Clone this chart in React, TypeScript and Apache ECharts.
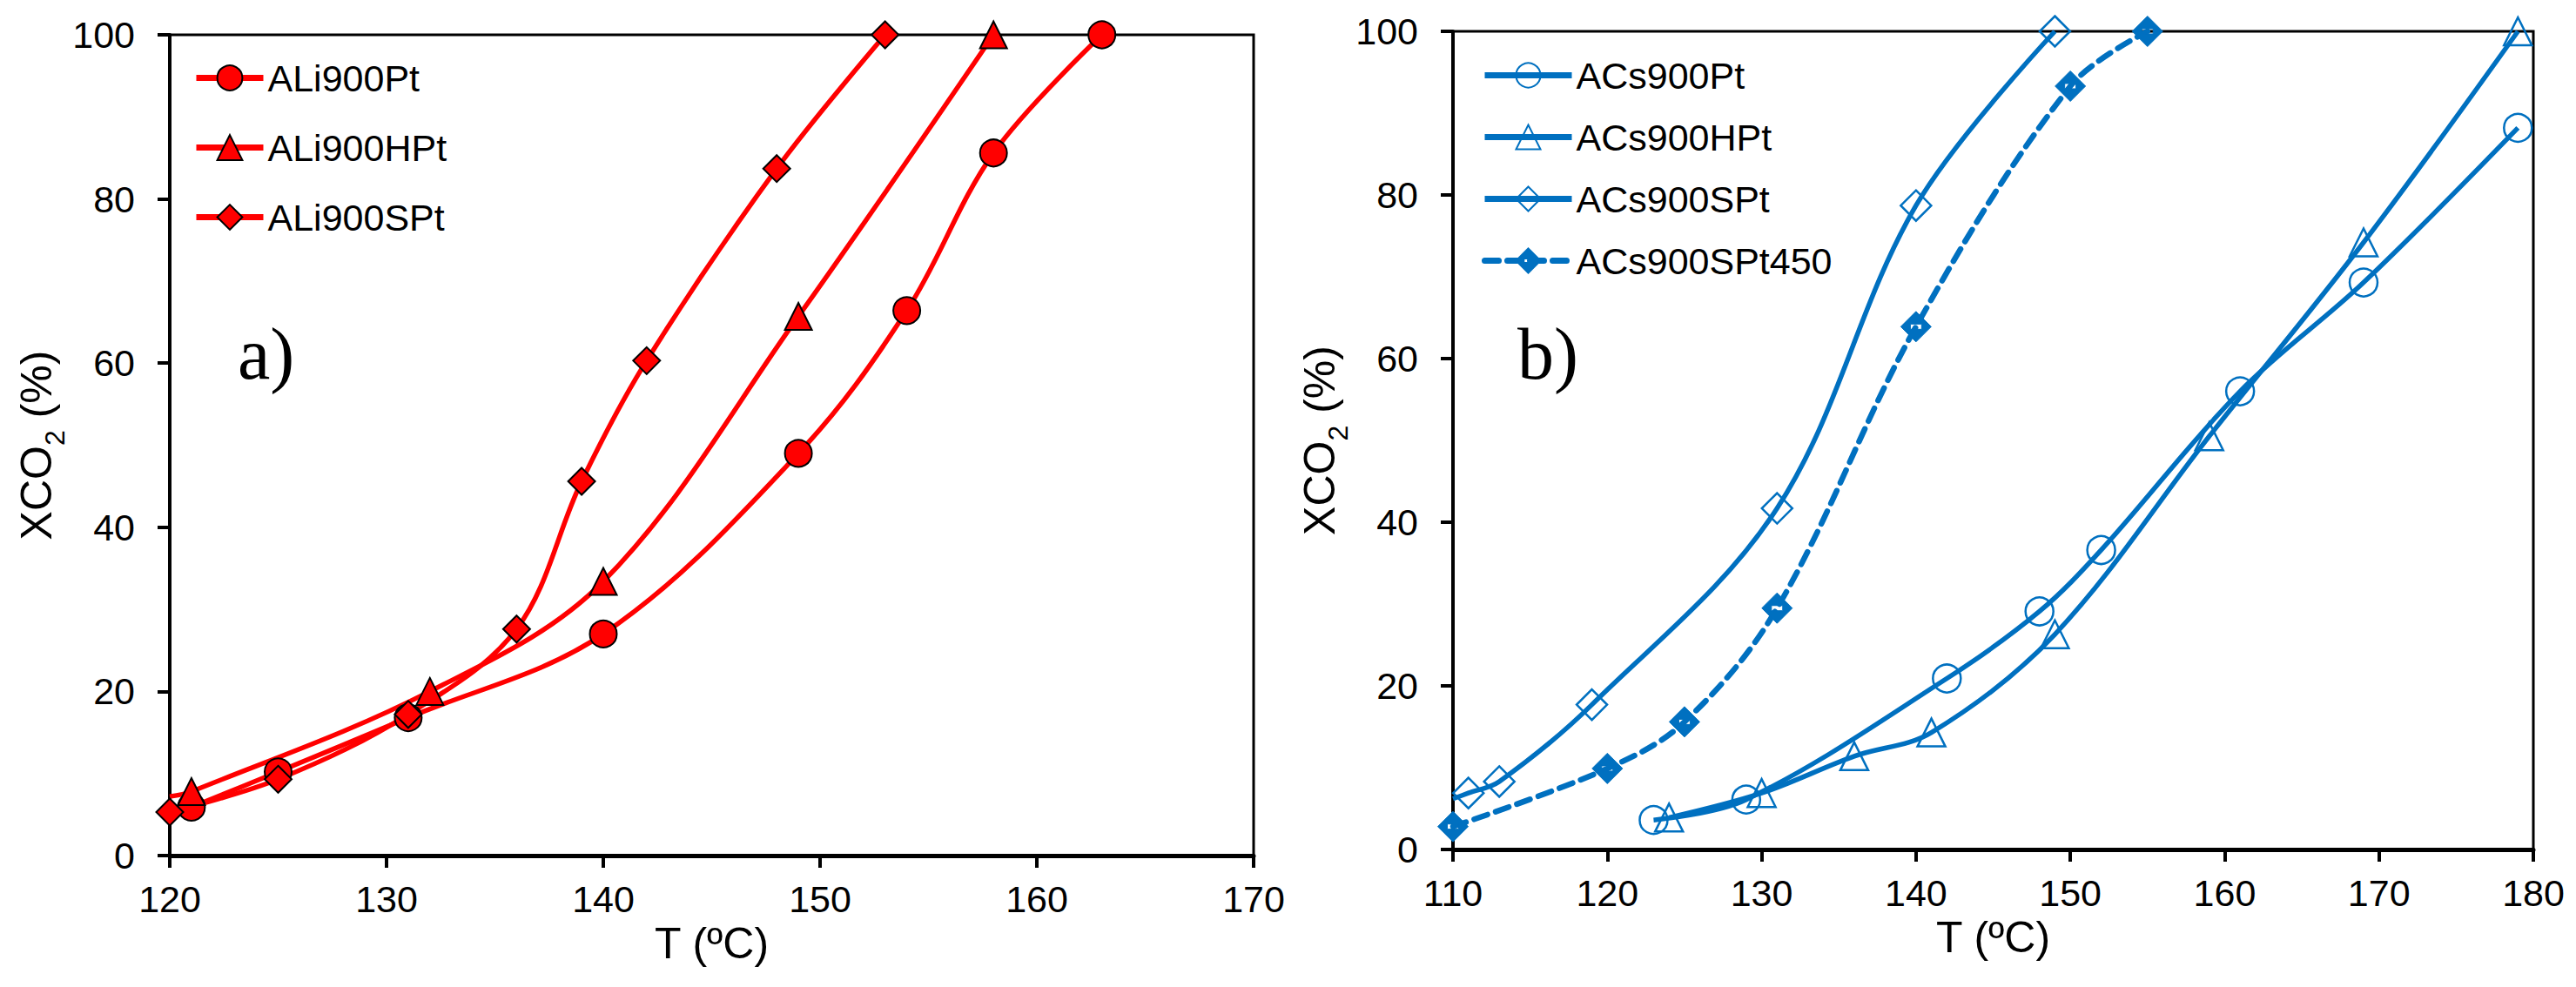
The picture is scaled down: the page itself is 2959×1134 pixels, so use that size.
import React, { useEffect, useRef } from 'react';
import * as echarts from 'echarts';

// panel a) ALi900 samples
const aliPtT = [121, 125, 131, 140, 149, 154, 158, 163];
const aliPtX = [5.9, 10.2, 16.8, 27.0, 49.0, 66.4, 85.6, 100];
const aliHPtT = [120, 121, 132, 140, 149, 158];
const aliHPtX = [7.2, 7.8, 20.0, 33.4, 65.7, 100];
const aliSPtT = [120, 125, 131, 136, 139, 142, 148, 153];
const aliSPtX = [5.3, 9.3, 17.2, 27.6, 45.6, 60.3, 83.7, 100];

// panel b) ACs900 samples
const acsPtT = [123, 129, 142, 148, 152, 161, 169, 179];
const acsPtX = [3.6, 6.1, 20.9, 29.1, 36.6, 56.0, 69.3, 88.2];
const acsHPtT = [124, 130, 136, 141, 149, 159, 169, 179];
const acsHPtX = [3.9, 6.9, 11.4, 14.3, 26.3, 50.5, 74.2, 100];
const acsSPtT = [110, 111, 113, 119, 131, 140, 149];
const acsSPtX = [6.2, 6.9, 8.3, 17.7, 41.7, 78.7, 100];
const acsSPt450T = [110, 120, 125, 131, 140, 150, 155];
const acsSPt450X = [2.8, 9.9, 15.6, 29.5, 63.9, 93.3, 100];

const leftNames = ['ALi900Pt', 'ALi900HPt', 'ALi900SPt'];
const rightNames = ['ACs900Pt', 'ACs900HPt', 'ACs900SPt', 'ACs900SPt450'];

const RED = '#FF0000';
const BLUE = '#0070C0';
const FONT = '"Liberation Sans", Arial, sans-serif';

// first point of a curve with no marker drawn on it
const points = (t: number[], x: number[], bareFirst = false) =>
  t.map((v, i) =>
    i === 0 && bareFirst ? { value: [v, x[i]], symbol: 'none' } : { value: [v, x[i]] }
  );

const diamondWithBar =
  'path://M0,-10L10,0L0,10L-10,0ZM-3.7,-1.7L-3.7,1.7L3.7,1.7L3.7,-1.7Z';

export default function App() {
  const chartRef = useRef<HTMLDivElement>(null);

  useEffect(() => {
    if (!chartRef.current) return;
    const chart = echarts.init(chartRef.current, null, { renderer: 'svg' });

    const xAxisBase = (min: number, max: number) => ({
      type: 'value',
      min,
      max,
      interval: 10,
      axisLine: { lineStyle: { color: '#000', width: 5 } },
      axisTick: { inside: false, length: 14, lineStyle: { color: '#000', width: 4 } },
      axisLabel: { color: '#000', fontSize: 43, fontFamily: FONT, margin: 28 },
      splitLine: { show: false },
      name: 'T (ºC)',
      nameLocation: 'middle',
      nameGap: 76,
      nameTextStyle: { color: '#000', fontSize: 50, fontFamily: FONT },
    });

    const yAxisBase = () => ({
      type: 'value',
      min: 0,
      max: 100,
      interval: 20,
      axisLine: { show: true, lineStyle: { color: '#000', width: 4 } },
      axisTick: { show: true, inside: false, length: 14, lineStyle: { color: '#000', width: 4 } },
      axisLabel: { color: '#000', fontSize: 43, fontFamily: FONT, margin: 40 },
      splitLine: { show: false },
      name: '{n|XCO}{s|2}{n| (%)}',
      nameLocation: 'middle',
      nameRotate: 90,
      nameGap: 118,
      nameTextStyle: {
        rich: {
          n: { fontSize: 50, lineHeight: 50, verticalAlign: 'top', fontFamily: FONT, color: '#000' },
          s: {
            fontSize: 32,
            lineHeight: 32,
            verticalAlign: 'top',
            padding: [30, 0, 0, 0],
            fontFamily: FONT,
            color: '#000',
          },
        },
      },
    });

    const redSeries = (name: string, data: any[], symbol: string) => ({
      type: 'line',
      name,
      xAxisIndex: 0,
      yAxisIndex: 0,
      data,
      smooth: 0.35,
      symbol,
      symbolSize: 31,
      lineStyle: { color: RED, width: 5.5 },
      itemStyle: { color: RED, borderColor: '#000', borderWidth: 2 },
      emphasis: { disabled: true },
    });

    const blueSeries = (name: string, data: any[], symbol: string, size: number) => ({
      type: 'line',
      name,
      xAxisIndex: 1,
      yAxisIndex: 1,
      data,
      smooth: 0.35,
      symbol,
      symbolSize: size,
      lineStyle: { color: BLUE, width: 5.5 },
      itemStyle: { color: 'rgba(255,255,255,0)', borderColor: BLUE, borderWidth: 2.5 },
      emphasis: { disabled: true },
    });

    const option = {
      animation: false,
      backgroundColor: '#fff',
      textStyle: { fontFamily: FONT },
      grid: [
        {
          left: 195, top: 40, width: 1245, height: 943,
          show: true, borderColor: '#000', borderWidth: 3, backgroundColor: 'transparent',
        },
        {
          left: 1669, top: 36, width: 1241, height: 940,
          show: true, borderColor: '#000', borderWidth: 3, backgroundColor: 'transparent',
        },
      ],
      xAxis: [
        { ...xAxisBase(120, 170), gridIndex: 0 },
        { ...xAxisBase(110, 180), gridIndex: 1 },
      ],
      yAxis: [
        { ...yAxisBase(), gridIndex: 0 },
        { ...yAxisBase(), gridIndex: 1 },
      ],
      legend: [
        {
          data: leftNames,
          orient: 'vertical',
          left: 217,
          top: 63,
          itemWidth: 77,
          itemHeight: 36,
          itemGap: 37,
          lineStyle: { width: 7 },
          textStyle: { color: '#000', fontSize: 43, fontFamily: FONT },
        },
        {
          data: rightNames,
          orient: 'vertical',
          left: 1697,
          top: 60,
          itemWidth: 100,
          itemHeight: 35,
          itemGap: 28,
          lineStyle: { width: 7 },
          textStyle: { color: '#000', fontSize: 43, fontFamily: FONT },
        },
      ],
      graphic: [
        {
          type: 'text',
          left: 273,
          top: 364,
          style: { text: 'a)', font: '84px "Liberation Serif", "Times New Roman", serif', fill: '#000' },
        },
        {
          type: 'text',
          left: 1743,
          top: 364,
          style: { text: 'b)', font: '84px "Liberation Serif", "Times New Roman", serif', fill: '#000' },
        },
      ],
      series: [
        redSeries(leftNames[0], points(aliPtT, aliPtX), 'circle'),
        redSeries(leftNames[1], points(aliHPtT, aliHPtX, true), 'triangle'),
        redSeries(leftNames[2], points(aliSPtT, aliSPtX), 'diamond'),
        blueSeries(rightNames[0], points(acsPtT, acsPtX), 'circle', 32),
        blueSeries(rightNames[1], points(acsHPtT, acsHPtX), 'triangle', 32),
        blueSeries(rightNames[2], points(acsSPtT, acsSPtX, true), 'diamond', 35),
        {
          type: 'line',
          name: rightNames[3],
          xAxisIndex: 1,
          yAxisIndex: 1,
          data: points(acsSPt450T, acsSPt450X),
          smooth: 0.35,
          symbol: diamondWithBar,
          symbolSize: 35,
          lineStyle: { color: BLUE, width: 6.5, type: [16, 10], cap: 'round' },
          itemStyle: { color: BLUE, borderColor: BLUE, borderWidth: 1 },
          emphasis: { disabled: true },
        },
      ],
    };

    chart.setOption(option as any);

    return () => {
      chart.dispose();
    };
  }, []);

  return (
    <div
      ref={chartRef}
      style={{ position: 'fixed', left: 0, top: 0, width: 2959, height: 1134, background: '#fff' }}
    />
  );
}
